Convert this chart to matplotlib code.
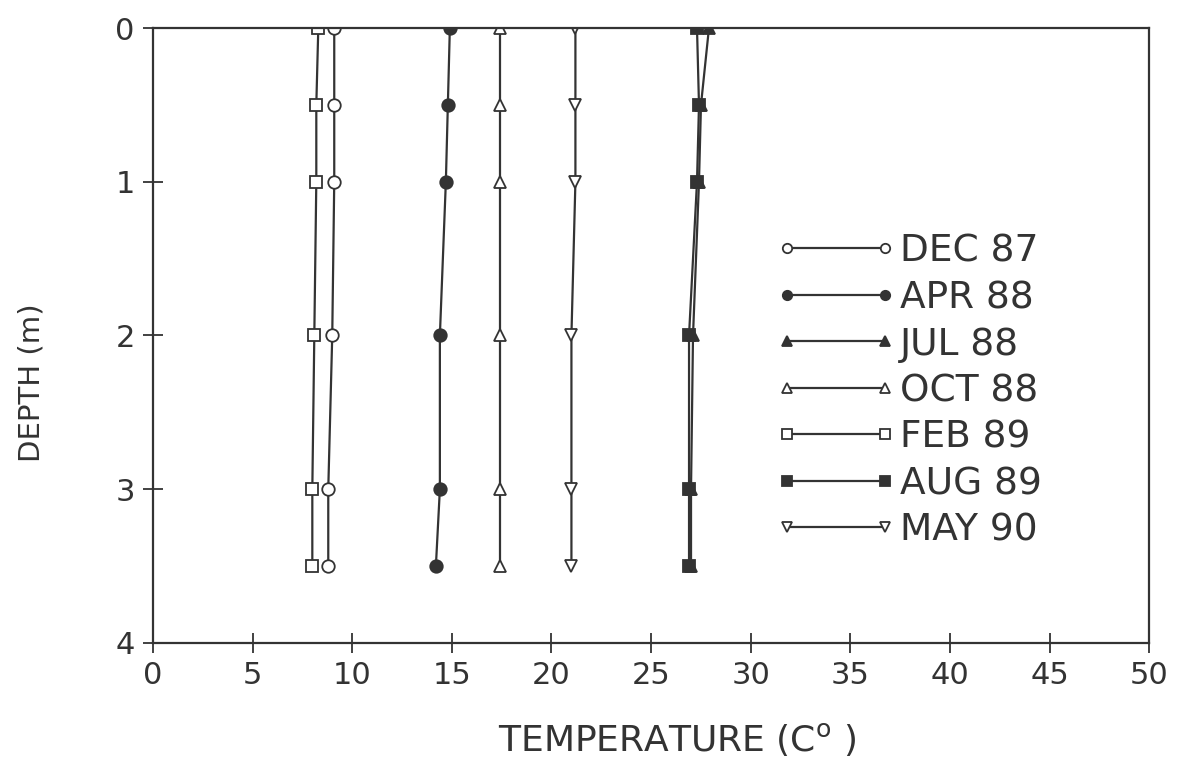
import matplotlib
matplotlib.use('Agg')
import matplotlib.pyplot as plt

depth = [0, 0.5, 1, 2, 3, 3.5]

dec87 = [9.1, 9.1, 9.1, 9.0, 8.8, 8.8]
apr88 = [14.9, 14.8, 14.7, 14.4, 14.4, 14.2]
jul88 = [27.9, 27.5, 27.4, 27.1, 27.0, 27.0]
oct88 = [17.4, 17.4, 17.4, 17.4, 17.4, 17.4]
feb89 = [8.3, 8.2, 8.2, 8.1, 8.0, 8.0]
aug89 = [27.3, 27.4, 27.3, 26.9, 26.9, 26.9]
may90 = [21.2, 21.2, 21.2, 21.0, 21.0, 21.0]

labels = ['DEC 87', 'APR 88', 'JUL 88', 'OCT 88', 'FEB 89', 'AUG 89', 'MAY 90']
series = [dec87, apr88, jul88, oct88, feb89, aug89, may90]
markers = ['o', 'o', '^', '^', 's', 's', 'v']
filled = [False, True, True, False, False, True, False]

ink = '#333333'
plt.rcParams['font.family'] = 'DejaVu Sans'

fig = plt.figure(figsize=(11.85, 7.58), dpi=100)
ax = fig.add_axes([0.129, 0.152, 0.841, 0.811])

for vals, lab, m, f in zip(series, labels, markers, filled):
    ax.plot(vals, depth, color=ink, lw=1.6, marker=m, markersize=9,
            markerfacecolor=ink if f else 'white', markeredgecolor=ink,
            markeredgewidth=1.3, label=lab)

ax.set_xlim(0, 50)
ax.set_ylim(4, 0)
ax.set_xticks(range(0, 51, 5))
ax.set_yticks([0, 1, 2, 3, 4])
ax.tick_params(direction='inout', length=14, width=1.3, colors=ink,
               labelsize=22, pad=6)
for s in ax.spines.values():
    s.set_color(ink)
    s.set_linewidth(1.6)

ax.set_xlabel('TEMPERATURE (C$^{\\rm o}$ )', fontsize=26, color=ink)
ax.set_ylabel('DEPTH (m)', fontsize=21, color=ink)
ax.xaxis.set_label_coords(0.526, -0.128)
ax.yaxis.set_label_coords(-0.108, 0.423)

leg = ax.legend(loc='upper left', bbox_to_anchor=(0.61, 0.69), numpoints=2,
                frameon=False, fontsize=27, markerscale=0.75, handlelength=3.2,
                handletextpad=0.12, labelspacing=0.28, borderaxespad=0)
for t in leg.get_texts():
    t.set_color(ink)

fig.savefig('out.png', dpi=100)
